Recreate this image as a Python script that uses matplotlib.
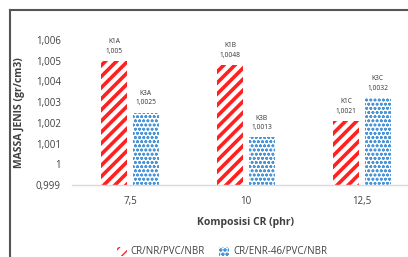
import numpy as np
import matplotlib.pyplot as plt
from matplotlib.lines import Line2D
from matplotlib.patches import Patch

plt.rcParams['font.family'] = ['Open Sans', 'DejaVu Sans']

categories = ["7,5", "10", "12,5"]
series_names = ["CR/NR/PVC/NBR", "CR/ENR-46/PVC/NBR"]
vals_1 = [1.005, 1.0048, 1.0021]
vals_3 = [1.0025, 1.0013, 1.0032]
codes_1 = ["K1A", "K1B", "K1C"]
codes_3 = ["K3A", "K3B", "K3C"]
yticks = [0.999, 1.0, 1.001, 1.002, 1.003, 1.004, 1.005, 1.006]

red = "#ff2020"
blue = "#4a94d8"

fig = plt.figure(figsize=(4.08, 2.57), dpi=100)
ax = fig.add_axes([72/408, (257-185)/257, 348/408, 145/257])

x = np.arange(len(categories))
w = 0.225
off = 0.135
base = 0.999
with plt.rc_context({'hatch.linewidth': 2.6}):
    ax.bar(x - off, np.array(vals_1) - base, w, bottom=base, color="white",
           edgecolor=red, hatch="///", linewidth=0)
    h1 = Patch(facecolor="white", edgecolor=red, hatch="///", linewidth=0)
with plt.rc_context({'hatch.linewidth': 0.8}):
    ax.bar(x + off, np.array(vals_3) - base, w, bottom=base, color="white",
           edgecolor=blue, hatch="oooo", linewidth=0)
    h3 = Patch(facecolor="white", edgecolor=blue, hatch="oooo", linewidth=0)

def fmt(v):
    s = ("%.4f" % v).rstrip("0")
    return s.replace(".", ",")

for i in range(len(categories)):
    ax.text(x[i] - off, vals_1[i] + 0.0003, codes_1[i] + "\n" + fmt(vals_1[i]),
            ha="center", va="bottom", fontsize=4.8, color="#333333", linespacing=1.5)
    ax.text(x[i] + off, vals_3[i] + 0.0003, codes_3[i] + "\n" + fmt(vals_3[i]),
            ha="center", va="bottom", fontsize=4.8, color="#333333", linespacing=1.5)

ax.set_xlim(-0.5, 2.5)
ax.set_ylim(0.999, 1.006)
ax.set_yticks(yticks)
ax.set_yticklabels([("%g" % t).replace(".", ",") if t != 1.0 else "1" for t in yticks])
ax.set_xticks(x)
ax.set_xticklabels(categories)
ax.tick_params(length=0, labelsize=7, colors="#404040", pad=8)
for s in ["top", "right", "left"]:
    ax.spines[s].set_visible(False)
ax.spines["bottom"].set_color("#d9d9d9")
ax.spines["bottom"].set_linewidth(1)

ax.set_ylabel("MASSA JENIS (gr/cm3)", fontsize=7.5, fontweight="bold", color="#404040", labelpad=8)
ax.set_xlabel("Komposisi CR (phr)", fontsize=7.5, fontweight="bold", color="#404040", labelpad=7)

fig.legend([h1, h3], series_names, loc="center", bbox_to_anchor=(222/408, 1 - 252/257),
           ncol=2, frameon=False, fontsize=7, handlelength=1.0, handleheight=1.0,
           columnspacing=1.5, handletextpad=0.4, labelcolor="#404040")

fig.add_artist(Line2D([10/408, 1], [1 - 9.5/257, 1 - 9.5/257], color="#555555", lw=1.5))
fig.add_artist(Line2D([10/408, 10/408], [0, 1 - 9.5/257], color="#555555", lw=1.5))

fig.savefig("out.png", dpi=100)
